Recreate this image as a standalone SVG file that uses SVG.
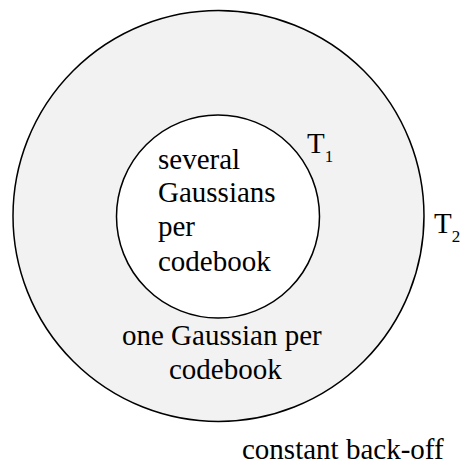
<svg xmlns="http://www.w3.org/2000/svg" width="464" height="464" viewBox="0 0 464 464" font-family="'Liberation Serif', 'DejaVu Serif', serif">
  <style>
    .ring { stroke: #000; stroke-width: 1.5; }
    .lbl { font-family: 'Liberation Serif', 'Times New Roman', Times, serif; font-size: 29px; fill: #000; }
    .sub { font-size: 17px; }
  </style>
  <rect width="464" height="464" fill="#fff"/>
  <g id="outer">
    <circle class="ring" cx="218.5" cy="216" r="205.5" fill="#f2f2f2"/>
    <text class="lbl" x="122" y="345">one Gaussian per</text>
    <text class="lbl" x="169" y="379">codebook</text>
  </g>
  <g id="inner">
    <circle class="ring" cx="218" cy="216.5" r="101.5" fill="#fff"/>
    <text class="lbl" x="158" y="169">several</text>
    <text class="lbl" x="158" y="202">Gaussians</text>
    <text class="lbl" x="158" y="236">per</text>
    <text class="lbl" x="158" y="271">codebook</text>
  </g>
  <g id="labels">
    <text class="lbl" x="307" y="153">T<tspan class="sub" dy="9">1</tspan></text>
    <text class="lbl" x="434" y="233">T<tspan class="sub" dy="9">2</tspan></text>
    <text class="lbl" x="242" y="459">constant back-off</text>
  </g>
</svg>
